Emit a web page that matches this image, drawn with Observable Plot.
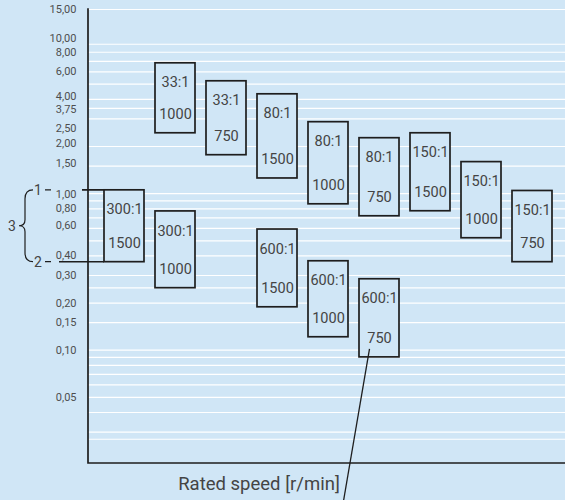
<!DOCTYPE html>
<html>
<head>
<meta charset="utf-8">
<script src="https://cdn.jsdelivr.net/npm/d3@7"></script>
<script src="https://cdn.jsdelivr.net/npm/@observablehq/plot@0.6"></script>
<style>
  html, body { margin: 0; padding: 0; background: #d0e6f6; }
  #chart { width: 565px; height: 500px; overflow: hidden; }
</style>
</head>
<body>
<div id="chart"></div>
<script>
// Gear units: ratio, rated motor speed, and the range each covers.
const ratios = ["300:1", "33:1", "300:1", "33:1", "80:1", "600:1", "80:1", "600:1", "80:1", "600:1", "150:1", "150:1", "150:1"];
const speeds = ["1500", "1000", "1000", "750", "1500", "1500", "1000", "1000", "750", "750", "1500", "1000", "750"];
const slotOf = [1, 2, 2, 3, 4, 4, 5, 5, 6, 6, 7, 8, 9];
const upper = [1.05, 6.8, 0.77, 5.22, 4.31, 0.59, 2.86, 0.37, 2.26, 0.284, 2.43, 1.59, 1.04];
const lower = [0.365, 2.43, 0.249, 1.76, 1.25, 0.188, 0.855, 0.121, 0.717, 0.090, 0.772, 0.519, 0.365];

// Column slots along the speed axis.
const slots = [1, 2, 3, 4, 5, 6, 7, 8, 9];

// Labelled values on the vertical axis; crowded labels are nudged up or down
// a little so neighbours stay apart. Then the lighter guide lines.
const yTicks = [15, 8, 6, 0.8, 0.4, 0.3, 0.2, 0.15, 0.1, 0.05];
const yTicksRaised = [4, 2.5, 2, 1.5, 0.6];
const yTicksLowered = [10, 1];
const yTicksDropped = [3.75];
const gridValues = [15, 9, 8, 7, 6, 5, 4, 3.5, 3, 2, 1.5, 1, 0.9, 0.8, 0.7, 0.6, 0.5, 0.4, 0.3, 0.25, 0.2, 0.15,
  0.1, 0.09, 0.08, 0.07, 0.06, 0.05, 0.04, 0.03, 0.027];

const bg = "#d0e6f6";
const ink = "#1e1e1e";
const textInk = "#444444";
const tickInk = "#4e4e4e";
const font = "Roboto, 'Open Sans', sans-serif";

const idx = ratios.map((_, i) => i);
const fmt = v => d3.format(".2f")(v).replace(".", ",");

// Axis lines, range brace for the first unit, and the leader line.
function annotations(index, scales, values, dims) {
  const {x, y} = scales;
  const {width, height, marginLeft, marginTop, marginBottom} = dims;
  const bottom = height - marginBottom;
  const bw = x.bandwidth ? x.bandwidth() : 41;
  const g = d3.create("svg:g");
  const lines = g.append("g").attr("fill", "none").attr("stroke", ink);

  lines.append("path").attr("stroke-width", 1.7)
    .attr("d", `M${marginLeft},${marginTop - 0.7}V${bottom}H${width}`);

  const boxLeft = x(slotOf[0]);
  const yT = y(upper[0]), yB = y(lower[0]), mid = (yT + yB) / 2;
  lines.append("path").attr("stroke-width", 1.6)
    .attr("d", `M${marginLeft - 6},${yT}H${boxLeft}M${marginLeft - 29},${yB}H${boxLeft}`);
  lines.append("path").attr("stroke-width", 1.3)
    .attr("d", `M${marginLeft - 43},${yT}H${marginLeft - 37}M${marginLeft - 43},${yB}H${marginLeft - 37}`);
  const bx = marginLeft - 63;
  lines.append("path").attr("stroke-width", 1.2)
    .attr("d", `M${bx + 8},${yT} C${bx + 2},${yT} ${bx},${yT + 3} ${bx},${yT + 9} V${mid - 6} C${bx},${mid - 2} ${bx - 2},${mid} ${bx - 6},${mid} C${bx - 2},${mid} ${bx},${mid + 2} ${bx},${mid + 6} V${yB - 9} C${bx},${yB - 3} ${bx + 2},${yB} ${bx + 8},${yB}`);

  const labels = g.append("g").attr("fill", textInk).attr("font-family", font).attr("font-size", 14)
    .attr("text-anchor", "middle").attr("dominant-baseline", "central");
  labels.append("text").attr("x", marginLeft - 50).attr("y", yT).text("1");
  labels.append("text").attr("x", marginLeft - 50).attr("y", yB).text("2");
  labels.append("text").attr("x", marginLeft - 76).attr("y", mid).text("3");

  // leader from the 600:1 / 750 unit down past the speed axis
  const k = 9;
  const lx = x(slotOf[k]) + bw / 2 - 9.5;
  const ly = y(lower[k]) - 8;
  lines.append("path").attr("stroke-width", 1.3)
    .attr("d", `M${lx},${ly}L${lx - (height - ly) * 0.171},${height}`);
  return g.node();
}

const tickText = {text: fmt, frameAnchor: "left", textAnchor: "end", dx: -12, fontSize: 11, fill: tickInk};

const chart = Plot.plot({
  width: 565,
  height: 500,
  marginTop: 9,
  marginBottom: 37,
  marginLeft: 88,
  marginRight: 0,
  style: {background: bg, color: textInk, fontFamily: font, fontSize: "12px"},
  x: {type: "band", domain: slots, paddingInner: 0.2115, paddingOuter: 0.1923, align: 0.55, axis: null},
  y: {type: "log", domain: [0.0189, 15], axis: null},
  marks: [
    Plot.ruleY(gridValues, {stroke: "white", strokeWidth: 1.2}),
    Plot.text(yTicks, {y: d => d, ...tickText}),
    Plot.text(yTicksRaised, {y: d => d, ...tickText, dy: -3}),
    Plot.text(yTicksLowered, {y: d => d, ...tickText, dy: 1}),
    Plot.text(yTicksDropped, {y: d => d, ...tickText, dy: 6}),
    Plot.barY(idx, {x: i => slotOf[i], y1: i => lower[i], y2: i => upper[i], fill: bg, stroke: ink, strokeWidth: 1.7}),
    Plot.text(idx, {x: i => slotOf[i], y: i => upper[i], text: i => ratios[i], dy: 19.5, fontSize: 14.5, fill: textInk}),
    Plot.text(idx, {x: i => slotOf[i], y: i => lower[i], text: i => speeds[i], dy: -19, fontSize: 14.5, fill: textInk}),
    Plot.text(["Rated speed [r/min]"], {frameAnchor: "bottom", lineAnchor: "middle", dx: -68, dy: 21, fontSize: 18.5, fill: textInk}),
    annotations
  ]
});
document.getElementById("chart").appendChild(chart);
</script>
</body>
</html>
